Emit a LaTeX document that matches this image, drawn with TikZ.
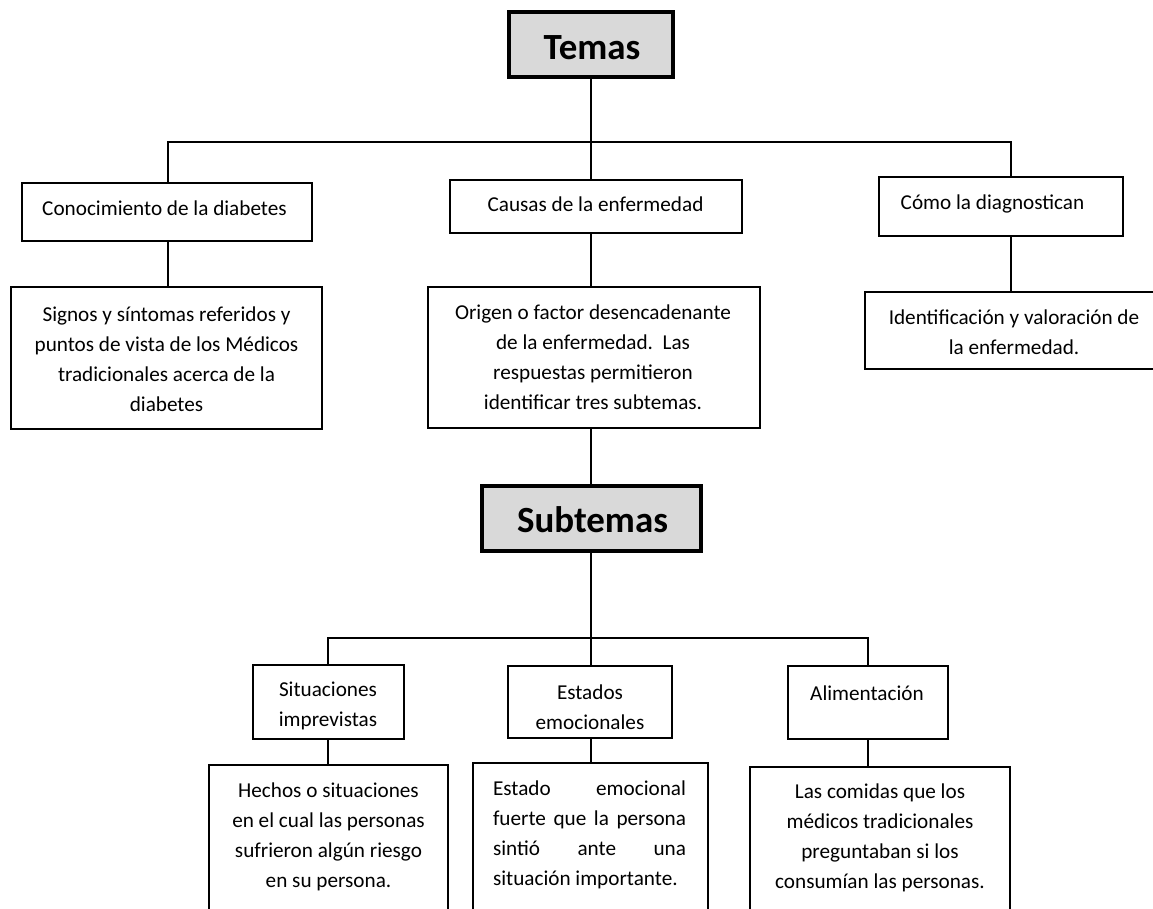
\documentclass[tikz,border=0pt]{standalone}
\usepackage{fontspec}
\setmainfont{Carlito}
\definecolor{headgray}{HTML}{D9D9D9}
\begin{document}
\begin{tikzpicture}[x=0.75pt,y=-0.75pt,
  box/.style={draw=black, line width=1.9pt, fill=white, inner sep=0pt},
  head/.style={draw=black, line width=3.4pt, fill=headgray, inner sep=0pt},
  txt/.style={font=\fontsize{15.9}{22.5}\selectfont, align=center, inner sep=0pt},
  bigtxt/.style={font=\bfseries\fontsize{27.7}{33}\selectfont, inner sep=0pt},
  conn/.style={draw=black, line width=1.3pt}]
\useasboundingbox (0,0) rectangle (1153,909);
% boxes
\node[head, minimum width=123pt, minimum height=48.75pt] (temas) at (591,44.5) {};
\node[box, minimum width=217.5pt, minimum height=43.5pt] (b1) at (167,212) {};
\node[box, minimum width=219pt, minimum height=39.75pt] (b2) at (596,206.5) {};
\node[box, minimum width=183pt, minimum height=44.25pt] (b3) at (1001,206.5) {};
\node[box, minimum width=233.25pt, minimum height=106.5pt] (d1) at (166.5,358) {};
\node[box, minimum width=249pt, minimum height=105.75pt] (d2) at (594,357.5) {};
\node[box, minimum width=232.5pt, minimum height=57.75pt] (d3) at (1020,330.5) {};
\node[head, minimum width=164.25pt, minimum height=48.75pt] (sub) at (591.5,518.5) {};
\node[box, minimum width=113.25pt, minimum height=55.5pt] (s1) at (328.5,702) {};
\node[box, minimum width=123pt, minimum height=54pt] (s2) at (590,702) {};
\node[box, minimum width=120pt, minimum height=54.75pt] (s3) at (868,702.5) {};
\node[box, minimum width=179.25pt, minimum height=146.25pt] (e1) at (328.5,862.5) {};
\node[box, minimum width=176.25pt, minimum height=147.75pt] (e2) at (590.5,861.5) {};
\node[box, minimum width=195pt, minimum height=144.75pt] (e3) at (880,863.5) {};
% connectors
\coordinate (tL) at (168,142);
\coordinate (tM) at (591,142);
\coordinate (tR) at (1011,142);
\draw[conn] (tM |- temas.south) -- (tM);
\draw[conn] (tL |- b1.north) -- (tL) -- (tR) -- (tR |- b3.north);
\draw[conn] (tM) -- (tM |- b2.north);
\draw[conn] (tL |- b1.south) -- (tL |- d1.north);
\draw[conn] (tM |- b2.south) -- (tM |- d2.north);
\draw[conn] (tR |- b3.south) -- (tR |- d3.north);
\draw[conn] (tM |- d2.south) -- (tM |- sub.north);
\coordinate (sL) at (328,638);
\coordinate (sM) at (591,638);
\coordinate (sR) at (868,638);
\draw[conn] (sM |- sub.south) -- (sM);
\draw[conn] (sL |- s1.north) -- (sL) -- (sR) -- (sR |- s3.north);
\draw[conn] (sM) -- (sM |- s2.north);
\draw[conn] (sL |- s1.south) -- (sL |- e1.north);
\draw[conn] (sM |- s2.south) -- (sM |- e2.north);
\draw[conn] (sR |- s3.south) -- (sR |- e3.north);
% texts
\node[bigtxt] (tTemas) at (592,48) {Temas};
\node[bigtxt] (tSub) at (592.5,519.5) {Subtemas};
\node[txt] (t1) at (164.5,208) {Conocimiento de la diabetes};
\node[txt] (t2) at (595.5,204) {Causas de la enfermedad};
\node[txt] (t3) at (992.5,204) {Cómo la diagnostican};
\node[txt] (u1) at (166.5,359) {Signos y síntomas referidos y\\puntos de vista de los Médicos\\tradicionales acerca de la\\diabetes};
\node[txt] (u2) at (593,357.5) {Origen o factor desencadenante\\de la enfermedad.\ \ Las\\respuestas permitieron\\identificar tres subtemas.};
\node[txt] (u3) at (1014,332.5) {Identificación y valoración de\\la enfermedad.};
\node[txt] (v1) at (328,706) {Situaciones\\imprevistas};
\node[txt] (v2) at (590,707) {Estados\\emocionales};
\node[txt] (v3) at (867,693) {Alimentación};
\node[txt] (w1) at (328.5,837) {Hechos o situaciones\\en el cual las personas\\sufrieron algún riesgo\\en su persona.};
\node[txt, align=left] (w2) at (589.5,835) {\makebox[144.75pt][s]{Estado emocional}\\\makebox[144.75pt][s]{fuerte que la persona}\\\makebox[144.75pt][s]{sintió ante una}\\situación importante.};
\node[txt] (w3) at (880,838) {Las comidas que los\\médicos tradicionales\\preguntaban si los\\consumían las personas.};
\end{tikzpicture}
\end{document}
